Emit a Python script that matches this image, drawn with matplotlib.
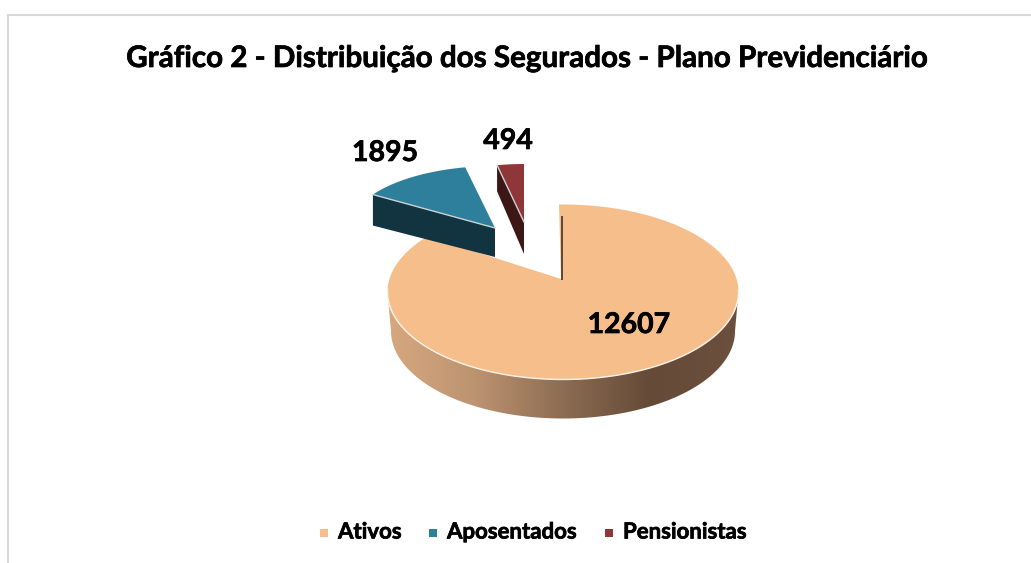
import numpy as np
from matplotlib import pyplot as plt
from matplotlib import patheffects as pe
from matplotlib.colors import LinearSegmentedColormap
from matplotlib.patches import Polygon

# Dados
categorias = ['Ativos', 'Aposentados', 'Pensionistas']
valores = [12607, 1895, 494]
titulo = 'Gráfico 2 - Distribuição dos Segurados - Plano Previdenciário'

cores = ['#F6BE8B', '#2E7F9B', '#8E3638']
cores_lado = ['#6B4F3A', '#123440', '#3D1716']

plt.rcParams['font.family'] = ['Lato', 'DejaVu Sans']
plt.rcParams['font.weight'] = 'bold'
negrito = [pe.withStroke(linewidth=0.5, foreground='black')]

fig = plt.figure(dpi=100, figsize=(10.31, 5.63))
ax = fig.add_axes([0, 0, 1, 1])
ax.set_xlim(0, 1031)
ax.set_ylim(563, 0)
ax.axis('off')

# Ângulos das fatias (sentido horário a partir do topo)
fim = np.cumsum(valores) / np.sum(valores) * 2 * np.pi
ini = np.concatenate([[0], fim[:-1]])


def raio_elipse(ang, apice, centro, rx, ry):
    # raio a partir do ápice até a borda da elipse (perspectiva)
    dx, dy = np.sin(ang) * rx, -np.cos(ang) * ry
    ox, oy = (apice[0] - centro[0]) / rx, (apice[1] - centro[1]) / ry
    a = (dx / rx) ** 2 + (dy / ry) ** 2
    b = 2 * (ox * dx / rx + oy * dy / ry)
    c = ox ** 2 + oy ** 2 - 1
    t = (-b + np.sqrt(b ** 2 - 4 * a * c)) / (2 * a)
    return apice[0] + t * dx, apice[1] + t * dy


# Fatia principal: lateral com gradiente
cx, cy, rx, ry = 563, 292, 175.5, 87.5
t = np.linspace(np.pi, 0, 200)
topo = np.column_stack([cx + rx * np.cos(t), cy + ry * np.sin(t)])
base = np.column_stack([cx + 172 * np.cos(t), cy + 39 + 87.5 * np.sin(t)])
lado = Polygon(np.vstack([topo, base[::-1]]), closed=True, fc='none', ec='none')
ax.add_patch(lado)
cmap = LinearSegmentedColormap.from_list('lado', ['#D6A880', '#BC9370', '#8C6C52', '#644A37', '#6B503D'])
img = ax.imshow(np.linspace(0, 1, 256).reshape(1, -1), cmap=cmap, aspect='auto',
                extent=(388, 739, 420, 290), zorder=1)
img.set_clip_path(lado)
ax.set_xlim(0, 1031)
ax.set_ylim(563, 0)

# Fatia principal: topo
apice = (561, 279)
ang = np.linspace(ini[0], fim[0], 300)
xy = np.array([raio_elipse(a, apice, (cx, cy), rx, ry) for a in ang])
xy[0, 0] -= 2
pts = np.vstack([[apice], xy])
ax.plot([xy[0, 0] + 2.5, apice[0] + 0.5], [xy[0, 1] + 12, apice[1]], color='#5E4634', lw=1.4, zorder=4)
ax.add_patch(Polygon(pts, closed=True, fc=cores[0], ec='none', zorder=3))
frente = (xy[:, 1] > cy - 3)
ax.plot(xy[frente, 0], xy[frente, 1], color='#FBF3EA', lw=1, zorder=4)

# Fatias destacadas: ápice, raios e profundidade
apices = [None, (495, 228), (524, 222)]
raios = [None, (145, 62), (131, 58)]
prof = [None, (31, 29), (26, 32)]
for i in [1, 2]:
    ap = apices[i]
    ang = np.linspace(ini[i], fim[i], 60)
    x = ap[0] + raios[i][0] * np.sin(ang)
    y = ap[1] - raios[i][1] * np.cos(ang)
    ax.add_patch(Polygon([(x[0], y[0]), ap, (ap[0], ap[1] + prof[i][1]), (x[0], y[0] + prof[i][0])],
                         closed=True, fc=cores_lado[i], ec='none', zorder=5))
    ax.add_patch(Polygon(np.vstack([[ap], np.column_stack([x, y])]), closed=True,
                         fc=cores[i], ec='none', zorder=6))
    ax.plot([x[0], ap[0]], [y[0], ap[1]], color='#C9D3D6', lw=1, zorder=7)

# Rótulos
pos_rotulos = [(629, 325), (385, 153), (508, 141)]
for v, p in zip(valores, pos_rotulos):
    ax.text(p[0], p[1], str(v), fontsize=20.5, ha='center', va='center', color='black', zorder=8,
            path_effects=negrito)

ax.text(527, 58, titulo, fontsize=21.3, ha='center', va='center', color='black', path_effects=negrito)

# Legenda
pos_legenda = [324, 433, 609]
for nome, cor, x in zip(categorias, cores, pos_legenda):
    ax.scatter([x], [533], marker='s', s=32, color=cor, linewidths=0)
    ax.text(x + 14, 532, nome, fontsize=16, ha='left', va='center', color='black', path_effects=negrito)

# Moldura
ax.plot([8, 8, 1031], [563, 15, 15], color='#D9D9D9', lw=1.5, solid_joinstyle='miter')

fig.savefig('out.png', dpi=100)
